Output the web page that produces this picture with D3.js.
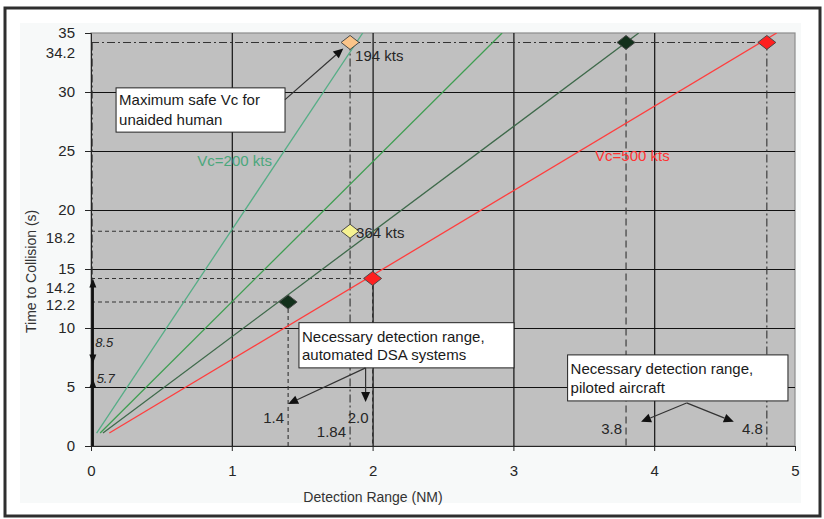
<!DOCTYPE html>
<html>
<head>
<meta charset="utf-8">
<script src="https://cdn.jsdelivr.net/npm/d3@7"></script>
<style>
  body { margin: 0; background: #fff; }
  svg { display: block; font-family: "Liberation Sans", Arial, sans-serif; }
</style>
</head>
<body>
<svg id="chart" width="824" height="519"></svg>
<script>
// ---- Closing-speed lines (Vc) : [detection range NM, time to collision s] ----
const vcSpeeds = [200, 300, 400, 500];
const vcLabels = ["Vc=200 kts", "", "", "Vc=500 kts"];
const vcStart = [[0.04, 1.1], [0.065, 1.1], [0.085, 1.1], [0.13, 1.1]];
const vcEnd = [[1.93, 35], [2.92, 35], [3.89, 35], [4.87, 35]];

// ---- Highlighted operating points ----
const pointRange = [1.84, 1.84, 1.4, 2.0, 3.8, 4.8];
const pointTime = [34.2, 18.2, 12.2, 14.2, 34.2, 34.2];
const pointLabels = ["194 kts", "364 kts", "", "", "", ""];

// ---- Axis ticks and reference values ----
const xTickValues = [0, 1, 2, 3, 4, 5];
const yTickValues = [0, 5, 10, 15, 20, 25, 30, 35];
const yRefValues = [34.2, 18.2, 14.2, 12.2];
const xRefValues = [1.4, 1.84, 2.0, 3.8, 4.8];
const yGapValues = [14.2, 8.5, 5.7];

const xTitle = "Detection Range (NM)";
const yTitle = "Time to Collision (s)";

// ---------------------------------------------------------------------------
const svg = d3.select("#chart");
const x = d3.scaleLinear().domain([0, 5]).range([91, 795]);
const y = d3.scaleLinear().domain([0, 35]).range([446, 33]);
const plotW = x(5) - x(0), plotH = y(0) - y(35);

const lineColors = ["#55ad86", "#3f9e52", "#3f6a4b", "#ff3d3d"];
const labelColors = ["#4aa77c", null, null, "#ff3333"];
const pointFills = ["#fbc489", "#f6f292", "#12301b", "#ff2020", "#12301b", "#ff2020"];
const ink = "#262626";

// outer frame and panel
svg.append("rect").attr("x", 5).attr("y", 8).attr("width", 815).attr("height", 508)
  .attr("fill", "#fff").attr("stroke", "#2e2e2e").attr("stroke-width", 3);
svg.append("rect").attr("x", 20).attr("y", 23).attr("width", 781).attr("height", 480)
  .attr("fill", "#f7f9f9");

// plot background
svg.append("rect").attr("x", x(0)).attr("y", y(35)).attr("width", plotW).attr("height", plotH)
  .attr("fill", "#c0c0c0").attr("stroke", "#8c8c8c").attr("stroke-width", 1.2);

svg.append("defs").append("clipPath").attr("id", "plotClip")
  .append("rect").attr("x", x(0)).attr("y", y(35)).attr("width", plotW).attr("height", plotH);

// gridlines
svg.append("g").attr("transform", `translate(0,${y(0)})`)
  .call(d3.axisBottom(x).tickValues(xTickValues.filter(v => v > 0 && v < 5)).tickSize(-plotH).tickFormat(""))
  .call(g => g.select(".domain").remove())
  .call(g => g.selectAll("line").attr("stroke", "#111").attr("stroke-width", 1.2));
svg.append("g").attr("transform", `translate(${x(0)},0)`)
  .call(d3.axisLeft(y).tickValues(yTickValues.filter(v => v > 0 && v < 35)).tickSize(-plotW).tickFormat(""))
  .call(g => g.select(".domain").remove())
  .call(g => g.selectAll("line").attr("stroke", "#111").attr("stroke-width", 1.2));

// guide lines to the axes
const dashed = "4,3", dashDot = "8,3,2,3", longDash = "7,4";
const guides = svg.append("g").attr("stroke", "#333").attr("stroke-width", 1.1).attr("fill", "none");
const hGuideStyle = { 34.2: dashDot, 18.2: dashed, 14.2: dashed, 12.2: dashed };
const vGuideStyle = { 1.84: dashDot, 1.4: dashed, 2: dashed, 3.8: longDash, 4.8: dashDot };
yRefValues.forEach(t => {
  const far = d3.max(pointRange.filter((d, i) => pointTime[i] === t));
  guides.append("line").attr("x1", x(0)).attr("x2", x(far)).attr("y1", y(t)).attr("y2", y(t))
    .attr("stroke-dasharray", hGuideStyle[t]);
});
xRefValues.forEach(d => {
  const top = d3.max(pointTime.filter((t, i) => pointRange[i] === d));
  guides.append("line").attr("x1", x(d)).attr("x2", x(d)).attr("y1", y(top)).attr("y2", y(0))
    .attr("stroke-dasharray", vGuideStyle[d]);
});
guides.append("line").attr("x1", x(0.008)).attr("x2", x(0.008)).attr("y1", y(34.2)).attr("y2", y(0))
  .attr("stroke-dasharray", dashDot);

// Vc lines
const vcG = svg.append("g").attr("clip-path", "url(#plotClip)");
vcSpeeds.forEach((v, i) => {
  vcG.append("line")
    .attr("x1", x(vcStart[i][0])).attr("y1", y(vcStart[i][1]))
    .attr("x2", x(vcEnd[i][0])).attr("y2", y(vcEnd[i][1]))
    .attr("stroke", lineColors[i]).attr("stroke-width", 1.3);
});
const vcLabelPos = [[0.755, 24.2], null, null, [3.58, 24.6]];
vcLabels.forEach((lab, i) => {
  if (!lab) return;
  svg.append("text").attr("x", x(vcLabelPos[i][0])).attr("y", y(vcLabelPos[i][1]))
    .attr("dy", "0.35em").attr("font-size", 15).attr("fill", labelColors[i]).text(lab);
});

// axes
const yAxis = svg.append("g").attr("transform", `translate(${x(0)},0)`);
yAxis.call(d3.axisLeft(y).tickValues(d3.range(0, 36, 1)).tickSize(4).tickFormat(""));
yAxis.call(d3.axisLeft(y).tickValues(yTickValues).tickSize(6).tickPadding(10).tickFormat(d3.format("d")));
yAxis.selectAll("path,line").attr("stroke", ink);
yAxis.selectAll("text").attr("font-size", 15).attr("fill", ink).attr("font-family", null);

const xAxis = svg.append("g").attr("transform", `translate(0,${y(0)})`);
xAxis.call(d3.axisBottom(x).tickValues(d3.range(0, 50.5, 1).map(v => v / 10)).tickSize(4).tickFormat(""));
xAxis.call(d3.axisBottom(x).tickValues(xTickValues).tickSize(5).tickPadding(14).tickFormat(d3.format("d")));
xAxis.selectAll("path,line").attr("stroke", ink);
xAxis.selectAll("text").attr("font-size", 15).attr("fill", ink).attr("font-family", null);

// axis titles
svg.append("text").attr("x", 373).attr("y", 497).attr("dy", "0.35em").attr("text-anchor", "middle")
  .attr("font-size", 14).attr("fill", "#333").text(xTitle);
svg.append("text").attr("transform", `translate(31,${y(14.8)}) rotate(-90)`).attr("dy", "0.35em")
  .attr("text-anchor", "middle").attr("font-size", 14).attr("fill", "#333").text(yTitle);

// reference values on the time axis (nudged apart so they stay legible)
const yRefOffset = { 34.2: 10, 18.2: 7, 14.2: 9, 12.2: 3 };
yRefValues.forEach(t => {
  svg.append("text").attr("x", 75).attr("y", y(t) + yRefOffset[t]).attr("dy", "0.35em")
    .attr("text-anchor", "end").attr("font-size", 15).attr("fill", ink).text(String(t));
});

// reference values on the range axis
const xRefLabelTime = { 1.4: 2.37, 1.84: 1.18, 2: 2.37, 3.8: 1.5, 4.8: 1.5 };
xRefValues.forEach(d => {
  svg.append("text").attr("x", x(d) - 4).attr("y", y(xRefLabelTime[d])).attr("dy", "0.35em")
    .attr("text-anchor", "end").attr("font-size", 15).attr("fill", ink).text(d.toFixed(d === 1.84 ? 2 : 1));
});

// time-gap markers along the time axis
function arrowHead(g, tx, ty, dir, w, h) {
  g.append("path")
    .attr("d", `M${tx},${ty} L${tx - w / 2},${ty - dir * h} L${tx + w / 2},${ty - dir * h} Z`)
    .attr("fill", "#111");
}
const gap = svg.append("g");
gap.append("line").attr("x1", x(0.013)).attr("x2", x(0.013)).attr("y1", y(yGapValues[0]) + 4).attr("y2", y(0))
  .attr("stroke", "#111").attr("stroke-width", 2.2);
arrowHead(gap, x(0.013), y(yGapValues[0]), -1, 7, 9);
arrowHead(gap, x(0.013), y(7.0), 1, 7, 9);
arrowHead(gap, x(0.013), y(yGapValues[2]), -1, 7, 9);
gap.append("text").attr("x", x(0.03)).attr("y", y(yGapValues[1]) - 3).attr("dy", "0.35em")
  .attr("font-size", 13).attr("font-style", "italic").attr("fill", ink).text(String(yGapValues[1]));
gap.append("text").attr("x", x(0.04)).attr("y", y(yGapValues[2])).attr("dy", "0.35em")
  .attr("font-size", 13).attr("font-style", "italic").attr("fill", ink).text(String(yGapValues[2]));

// operating-point diamonds
const diamond = "M0,-7 L9,0 L0,7 L-9,0 Z";
svg.append("g").selectAll("path").data(pointRange).join("path")
  .attr("transform", (d, i) => `translate(${x(d)},${y(pointTime[i])})`)
  .attr("d", diamond)
  .attr("fill", (d, i) => pointFills[i])
  .attr("stroke", "#4a4a4a").attr("stroke-width", 1);
const pointLabelOffset = [[5, 13], [6, 2]];
pointLabels.forEach((lab, i) => {
  if (!lab) return;
  svg.append("text").attr("x", x(pointRange[i]) + pointLabelOffset[i][0])
    .attr("y", y(pointTime[i]) + pointLabelOffset[i][1]).attr("dy", "0.35em")
    .attr("font-size", 15).attr("fill", ink).text(lab);
});

// callout boxes with arrows
function callout(lines, bx0, bt0, bx1, bt1, lineGap) {
  const g = svg.append("g");
  const X0 = x(bx0), Y0 = y(bt0), X1 = x(bx1), Y1 = y(bt1);
  g.append("rect").attr("x", X0).attr("y", Y0).attr("width", X1 - X0).attr("height", Y1 - Y0)
    .attr("fill", "#fff").attr("stroke", "#222").attr("stroke-width", 1);
  const first = Y0 + (Y1 - Y0) / 2 - lineGap / 2;
  lines.forEach((s, k) => {
    g.append("text").attr("x", X0 + 3).attr("y", first + k * lineGap).attr("dy", "0.35em")
      .attr("font-size", 15).attr("fill", "#1a1a1a").text(s);
  });
  return g;
}
function arrow(sx, sy, tx, ty) {
  const ang = Math.atan2(ty - sy, tx - sx);
  const L = 10, Wd = 4.5;
  const bx = tx - L * Math.cos(ang), by = ty - L * Math.sin(ang);
  svg.append("line").attr("x1", sx).attr("y1", sy).attr("x2", bx).attr("y2", by)
    .attr("stroke", "#333").attr("stroke-width", 1.2);
  svg.append("path").attr("d",
    `M${tx},${ty} L${bx - Wd * Math.sin(ang)},${by + Wd * Math.cos(ang)} L${bx + Wd * Math.sin(ang)},${by - Wd * Math.cos(ang)} Z`)
    .attr("fill", "#111");
}

// unaided-human callout -> 194 kts point
callout(["Maximum safe Vc for", "unaided human"], 0.178, 30.35, 1.378, 26.6, 20);
{
  const px = x(pointRange[0]), py = y(pointTime[0]);
  const sx = x(1.378), sy = y(29.35);
  const ang = Math.atan2(py - sy, px - sx);
  arrow(sx, sy, px - 9 * Math.cos(ang), py - 9 * Math.sin(ang));
}

// automated DSA callout -> 1.4 and 2.0 NM
callout(["Necessary detection range,", "automated DSA systems"], 1.477, 10.45, 3.004, 6.62, 18);
{
  const sx = x(2.0) - 7, sy = y(6.62);
  arrow(sx, sy, x(1.4), y(3.56));
  arrow(sx, sy, sx, y(3.73));
}

// piloted aircraft callout -> 3.8 and 4.8 NM
callout(["Necessary detection range,", "piloted aircraft"], 3.385, 7.72, 4.95, 3.82, 19);
{
  const sx = x(4.23), sy = y(3.65);
  arrow(sx, sy, x(3.8) + 15, y(2.05));
  arrow(sx, sy, x(4.8) - 33, y(2.05));
}
</script>
</body>
</html>
